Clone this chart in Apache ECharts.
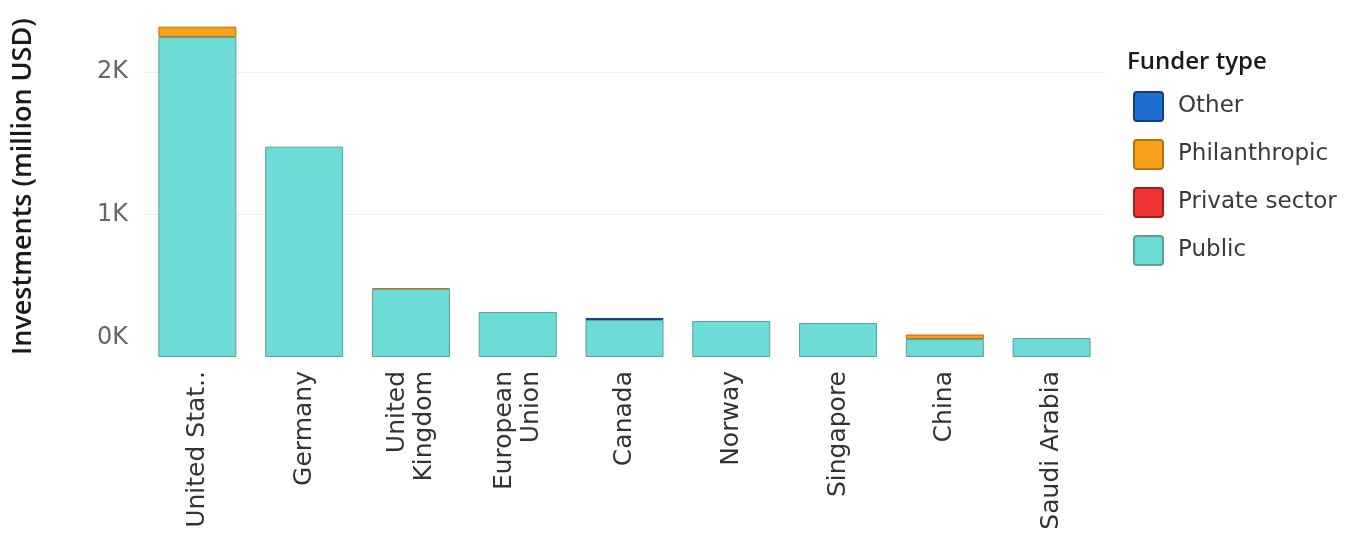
<!DOCTYPE html>
<html><head><meta charset="utf-8">
<script src="https://cdn.jsdelivr.net/npm/echarts@6/dist/echarts.min.js"></script>
<style>html,body{margin:0;padding:0;background:#fff}#c{width:1362px;height:543px}</style>
</head><body><div id="c"></div>
<script>
const categories = ['United Stat..', 'Germany', 'United\nKingdom', 'European\nUnion', 'Canada', 'Norway', 'Singapore', 'China', 'Saudi Arabia'];
const publicVals = [2246, 1476, 476, 316, 260, 253, 239, 126, 133];
const privateVals = [0, 0, 0, 0, 0, 0, 0, 0, 0];
const philanthropicVals = [72, 0, 8, 0, 0, 0, 0, 32, 0];
const otherVals = [0, 0, 0, 0, 14, 0, 0, 0, 0];
const yTicks = [0, 1000, 2000];
const legendOrder = ['Other', 'Philanthropic', 'Private sector', 'Public'];

const FONT = 'DejaVu Sans';
const chart = echarts.init(document.getElementById('c'), null, {renderer: 'canvas'});
function s(name, data, color, border) {
  return {
    name, type: 'bar', stack: 'total', barWidth: 78,
    data: data.map(v => v === 0 ? null : v),
    itemStyle: {color, borderColor: border, borderWidth: 1},
    emphasis: {disabled: true}
  };
}
chart.setOption({
  animation: false,
  backgroundColor: '#fff',
  grid: {left: 144, right: 257, top: 15, bottom: 186},
  graphic: [
    {type: 'text', left: 1127, top: 50, style: {text: 'Funder type', font: '600 24px "Open Sans"', fill: '#1a1a1a'}},
    {type: 'text', rotation: Math.PI / 2, x: 10, y: 355,
     style: {text: 'Investments (million USD)', font: '600 27px "Open Sans"', fill: '#1a1a1a', textAlign: 'left', textVerticalAlign: 'top'}}
  ],
  legend: {
    orient: 'vertical', left: 1133, top: 91, padding: 0, itemWidth: 29, itemHeight: 29, itemGap: 17,
    data: legendOrder, icon: 'path://M3,0 L27,0 Q30,0 30,3 L30,27 Q30,30 27,30 L3,30 Q0,30 0,27 L0,3 Q0,0 3,0 Z',
    textStyle: {fontFamily: FONT, fontSize: 23, color: '#3a3a3a', padding: [0, 0, 0, 10]}
  },
  xAxis: {
    type: 'category', data: categories,
    axisLine: {show: false}, axisTick: {show: false},
    axisLabel: {rotate: 90, interval: 0, margin: 14, fontFamily: FONT, fontSize: 25, color: '#333', lineHeight: 27}
  },
  yAxis: {
    type: 'value', min: 0, max: 2400, interval: 1000,
    axisLine: {show: false}, axisTick: {show: false},
    splitLine: {show: true, showMinLine: false, showMaxLine: false, lineStyle: {color: '#f0f0f0', width: 1}},
    axisLabel: {
      margin: 16, fontFamily: FONT, fontSize: 24, color: '#666', showMaxLabel: false,
      formatter: v => yTicks.indexOf(v) < 0 ? '' : (v === 0 ? '{z|0K}' : (v / 1000) + 'K'),
      rich: {z: {fontFamily: FONT, fontSize: 24, color: '#666', padding: [0, 0, 38, 0]}}
    }
  },
  series: [
    s('Public', publicVals, '#6ddcd6', '#5f9e9b'),
    s('Private sector', privateVals, '#f03434', '#a02020'),
    s('Philanthropic', philanthropicVals, '#f7a11a', '#b8730f'),
    s('Other', otherVals, '#1f6ed2', '#173d73')
  ]
});
</script></body></html>
